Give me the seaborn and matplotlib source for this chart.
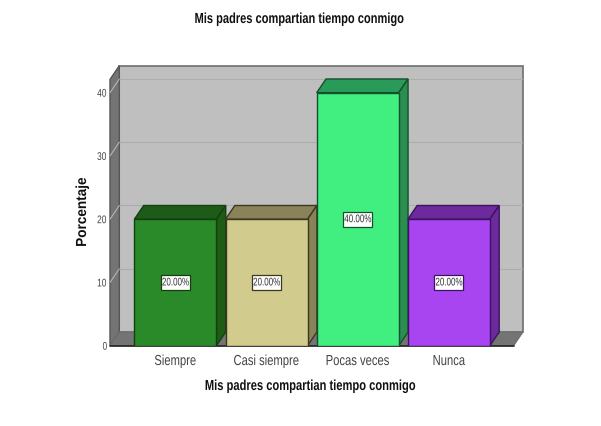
import matplotlib
matplotlib.use('Agg')
import matplotlib.pyplot as plt
from matplotlib.patches import Polygon, Rectangle
from matplotlib.patheffects import AbstractPathEffect
from matplotlib.transforms import Affine2D
import pandas as pd
import seaborn as sns

categories = ['Siempre', 'Casi siempre', 'Pocas veces', 'Nunca']
percent = [20, 20, 40, 20]
yticks = [0, 10, 20, 30, 40]
front_colors = ['#2a8a2a', '#d1cb8e', '#41ef80', '#a845f0']
top_colors = ['#1c5c18', '#8a8258', '#2a9a58', '#6c2a9c']
side_colors = ['#1c5c14', '#8a8258', '#2a8e50', '#6c2a9c']
edge_colors = ['#14400f', '#3c3820', '#14502c', '#3a1460']
title = 'Mis padres compartian tiempo conmigo'

W, H = 601, 426
# 3d box offsets in data units
dx = 9.3 / 91
dy = 13.7 / 6.325
y_front_top = 42.1


class Narrow(AbstractPathEffect):
    # squeeze the glyphs sideways, no condensed font is installed
    def __init__(self, s):
        super().__init__()
        self.s = s

    def draw_path(self, renderer, gc, tpath, affine, rgbFace=None):
        ext = tpath.get_extents()
        c = (ext.x0 + ext.x1) / 2
        t = Affine2D().translate(-c, 0).scale(self.s, 1).translate(c, 0) + affine
        renderer.draw_path(gc, tpath, t, rgbFace)


sns.set_style('white')
plt.rcParams['font.family'] = ['Liberation Sans', 'DejaVu Sans']

fig = plt.figure(figsize=(W / 100, H / 100), dpi=100, facecolor='white')
ax = fig.add_axes([110 / W, 1 - 345.7 / H, 413 / W, 280 / H])

df = pd.DataFrame({'cat': categories, 'pct': percent})
sns.barplot(data=df, x='cat', y='pct', hue='cat', palette=front_colors, width=0.9,
            legend=False, saturation=1, ax=ax, zorder=5)

xl, xr = -0.7176, 3.711
ax.set_xlim(xl, xr + dx)
ax.set_ylim(0, y_front_top + dy)

# walls and floor
wall = '#bfbfbf'
side = '#747474'
border = '#6e6e6e'
ax.add_patch(Polygon([(xl + dx, dy), (xr + dx, dy), (xr + dx, y_front_top + dy), (xl + dx, y_front_top + dy)],
                     fc=wall, ec=border, lw=1.2, zorder=1, clip_on=False))
ax.add_patch(Polygon([(xl, 0), (xl + dx, dy), (xl + dx, y_front_top + dy), (xl, y_front_top)],
                     fc=side, ec='#555555', lw=1, zorder=2, clip_on=False))
ax.add_patch(Polygon([(xl, 0), (xr, 0), (xr + dx, dy), (xl + dx, dy)],
                     fc=side, ec=border, lw=0.8, zorder=2, clip_on=False))
ax.plot([xl, xr], [0, 0], color='#222222', lw=1.2, zorder=4, clip_on=False)

# gridlines on the back wall and the left wall
for t in yticks[1:]:
    ax.plot([xl + dx, xr + dx], [t + dy, t + dy], color='#adadad', lw=0.8, zorder=1.5)
    ax.plot([xl, xl + dx], [t, t + dy], color='#b4b4b4', lw=0.8, zorder=3)

# bars: top and side faces, front outline, label boxes
bars = [c[0] for c in ax.containers]
for bar, tc, sc, ec in zip(bars, top_colors, side_colors, edge_colors):
    x0 = bar.get_x()
    x1 = x0 + bar.get_width()
    h = bar.get_height()
    bar.set_edgecolor(ec)
    bar.set_linewidth(1)
    ax.add_patch(Polygon([(x0, h), (x1, h), (x1 + dx, h + dy), (x0 + dx, h + dy)],
                         fc=tc, ec=ec, lw=1, zorder=4.5))
    ax.add_patch(Polygon([(x1, 0), (x1 + dx, dy), (x1 + dx, h + dy), (x1, h)],
                         fc=sc, ec=ec, lw=1, zorder=4.5))
    bw, bh = 29 / 91, 15 / 6.325
    ax.add_patch(Rectangle(((x0 + x1) / 2 - bw / 2, h / 2 - bh / 2), bw, bh,
                           fc='white', ec=ec, lw=0.9, zorder=5.5))

for cont in ax.containers:
    labels = ax.bar_label(cont, fmt='%.2f%%', label_type='center', fontsize=8, color='#333333', zorder=6)
    for txt in labels:
        txt.set_path_effects([Narrow(0.72)])

sns.despine(ax=ax, left=True, bottom=True)
ax.grid(False)
ax.set_yticks(yticks)
ax.tick_params(axis='y', length=0, pad=1.5, labelsize=8, labelcolor='#444444')
ax.tick_params(axis='x', length=0, pad=6, labelsize=10.5, labelcolor='#444444')
ax.set_xlabel('')
ax.set_ylabel('')
for txt in ax.get_yticklabels():
    txt.set_path_effects([Narrow(0.75)])
for txt in ax.get_xticklabels():
    txt.set_path_effects([Narrow(0.77)])

for x, y, s in [(300, 19, 0.76), (311, 386, 0.765)]:
    t = fig.text(x / W, 1 - y / H, title, ha='center', va='center', fontsize=10.5, fontweight='bold', color='#111111')
    t.set_path_effects([Narrow(s)])
t = fig.text(82 / W, 1 - 212 / H, 'Porcentaje', ha='center', va='center', rotation=90, fontsize=10.5,
             fontweight='bold', color='#111111')
t.set_path_effects([Narrow(0.93)])

fig.savefig('out.png', dpi=100)
